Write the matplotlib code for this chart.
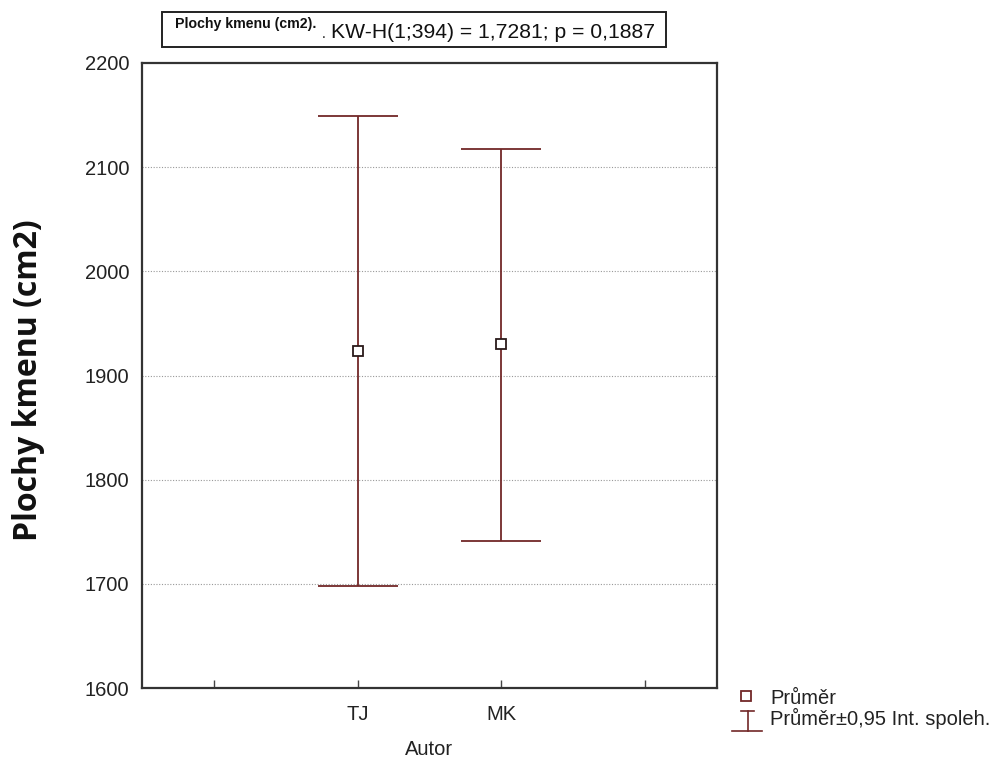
import matplotlib
matplotlib.use("Agg")
import matplotlib.pyplot as plt
from matplotlib.lines import Line2D
from matplotlib.patches import Rectangle

# Data
categories = ["TJ", "MK"]
means = [1924, 1930]
upper = [2149, 2117]
lower = [1698, 1741]
yticks = [1600, 1700, 1800, 1900, 2000, 2100, 2200]

line_col = "#722828"
font = "Liberation Sans"
fs = 14.5

fig = plt.figure(figsize=(9.98, 7.58), dpi=100)
ax = fig.add_axes([142/998, 1-688/758, (717-142)/998, (688-63)/758])

xpos = [1, 2]
for x, m, lo, hi in zip(xpos, means, lower, upper):
    ax.errorbar([x], [m], yerr=[[m - lo], [hi - m]], fmt="none",
                ecolor=line_col, elinewidth=1.3, capsize=29, capthick=1.3, zorder=3)
ax.plot(xpos, means, linestyle="none", marker="s", markersize=7.5,
        markerfacecolor="white", markeredgecolor="#2a1a1a", markeredgewidth=1.3, zorder=4)

ax.set_xlim(-0.5, 3.5)
ax.set_ylim(1600, 2200)
ax.set_yticks(yticks)
ax.set_yticklabels([str(v) for v in yticks], fontsize=fs, family=font, color="#222222")
ax.set_xticks([0, 1, 2, 3])
ax.set_xticklabels(["", categories[0], categories[1], ""], fontsize=fs, family=font, color="#222222")
ax.tick_params(axis="x", direction="in", length=6, width=1, color="#444444", pad=12)
ax.tick_params(axis="y", length=0, pad=9)
for s in ax.spines.values():
    s.set_color("#333333")
    s.set_linewidth(1.6)
for v in yticks[1:-1]:
    ax.axhline(v, color="#999999", linestyle=(0, (1, 1.5)), linewidth=0.8, zorder=1)

ax.set_xlabel("Autor", fontsize=fs, family=font, color="#222222", labelpad=12)
fig.text(29/998, 1-380/758, "Plochy kmenu (cm2)", rotation=90, ha="center", va="center",
         fontsize=23, fontweight="bold", family="Open Sans", color="#111111")

# title box
fig.add_artist(Rectangle((162/998, 1-47/758), (666-162)/998, 35/758, transform=fig.transFigure,
                         facecolor="white", edgecolor="#222222", linewidth=1.4))
fig.text(175/998, 1-24/758, "Plochy kmenu (cm2).", fontsize=10.2, fontweight="bold",
         family=font, va="center", ha="left", color="#111111")
fig.text(322/998, 1-38/758, ".", fontsize=10.2, family=font, va="baseline", ha="left", color="#111111")
fig.text(331/998, 1-32/758, "KW-H(1;394) = 1,7281; p = 0,1887", fontsize=15.2,
         family=font, va="center", ha="left", color="#111111")

# legend (manual)
ft = fig.transFigure
fig.add_artist(Line2D([746/998], [1-696/758], transform=ft, marker="s", markersize=6.5,
                      markerfacecolor="white", markeredgecolor=line_col, markeredgewidth=1.3,
                      linestyle="none"))
fig.text(770/998, 1-699/758, "Průměr", fontsize=fs, family=font, va="center", color="#222222")
fig.add_artist(Line2D([741/998, 754/998], [1-711/758, 1-711/758], transform=ft, color=line_col, lw=1.2))
fig.add_artist(Line2D([748/998, 748/998], [1-711/758, 1-731/758], transform=ft, color=line_col, lw=1.2))
fig.add_artist(Line2D([732/998, 762/998], [1-731/758, 1-731/758], transform=ft, color=line_col, lw=1.2))
fig.text(770/998, 1-718/758, "Průměr±0,95 Int. spoleh.", fontsize=fs, family=font, va="center", color="#222222")

fig.savefig("out.png", dpi=100)
